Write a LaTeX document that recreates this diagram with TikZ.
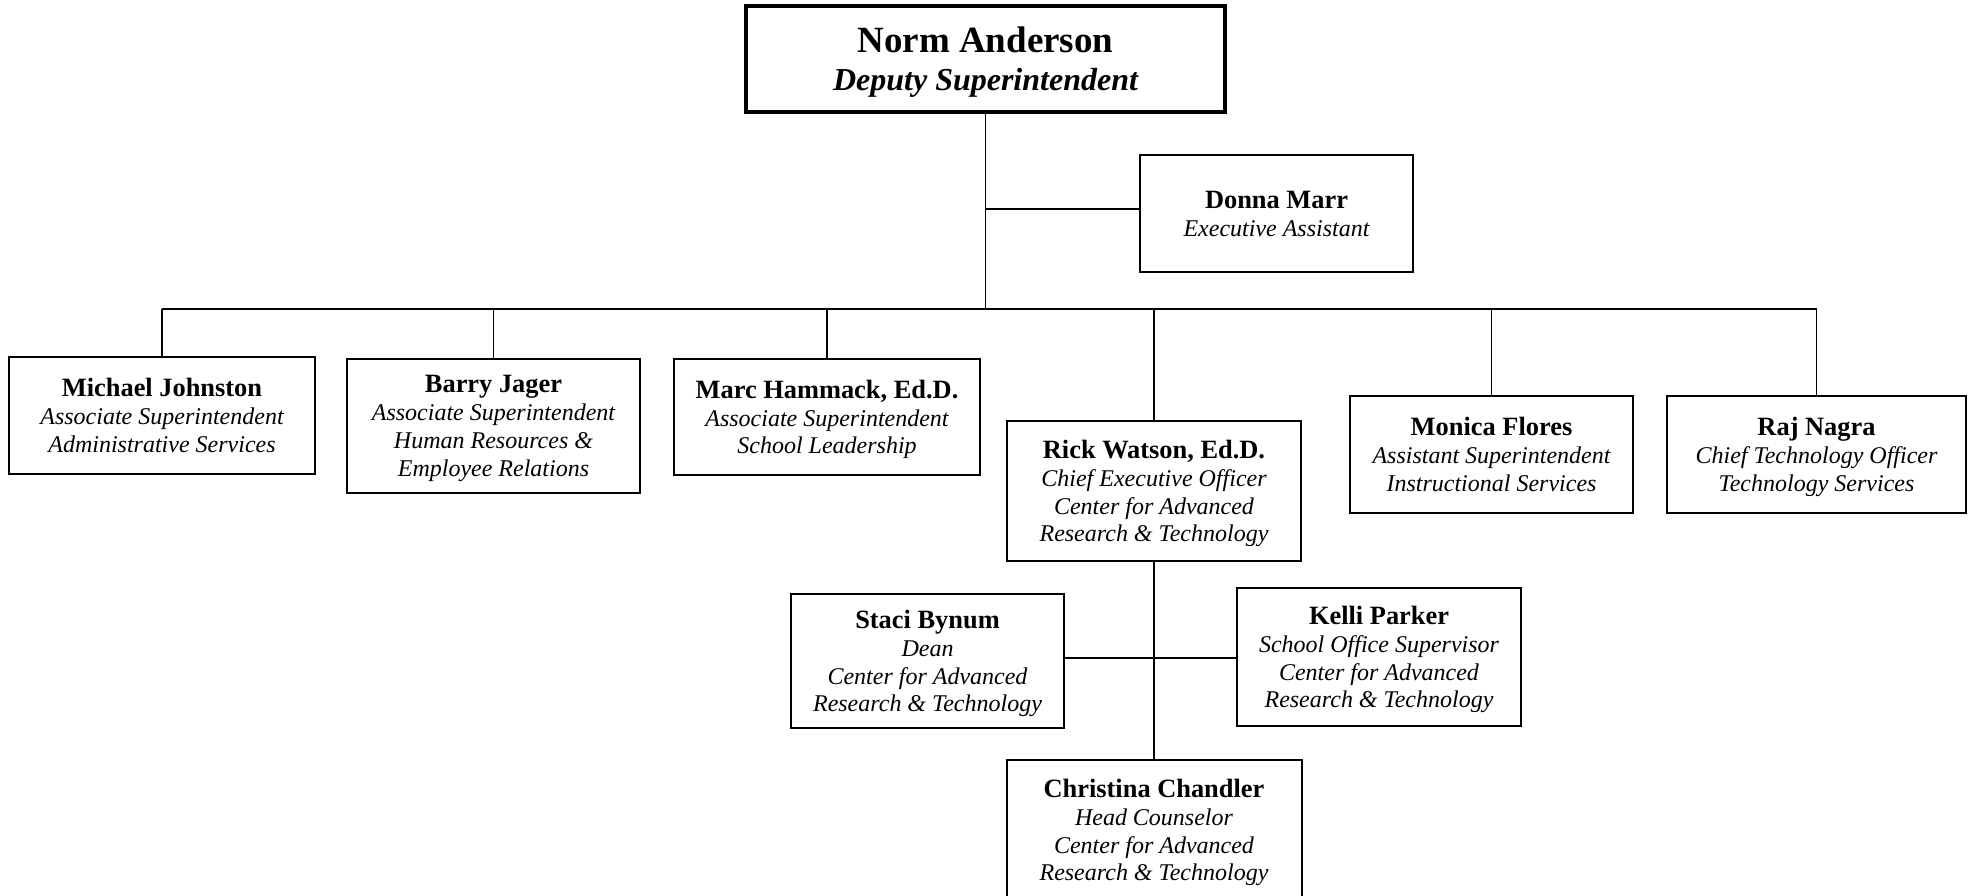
\documentclass[tikz,border=0pt]{standalone}
\usepackage{fontspec}
\setmainfont{Liberation Serif}
\usepackage{tikz}
\tikzset{
  person/.style={
    rectangle,
    draw=black, line width=1pt,
    inner sep=0pt,
    text depth=-1pt,
    align=center,
    font=\fontsize{12}{13.9}\selectfont\itshape},
  boss/.style={
    person,
    line width=1.75pt,
    font=\fontsize{16}{19}\selectfont\bfseries\itshape},
  line/.style={draw, line width=0.65pt},
}
\newcommand{\pname}[1]{{\upshape\bfseries\fontsize{13.2}{13.9}\selectfont #1}}

\begin{document}
\begin{tikzpicture}[x=0.5pt,y=-0.5pt]
\useasboundingbox (0,0) rectangle (1976,895);
\node[boss, minimum width=239.5pt, minimum height=53pt] (Norm) at (985.5,59)
  {{\upshape\fontsize{18.5}{19}\selectfont Norm Anderson}\\Deputy Superintendent};
\node[person, minimum width=136.5pt, minimum height=58.5pt] (Donna) at (1276.5,213.5)
  {\pname{Donna Marr}\\Executive Assistant};
% first row
\node[person, minimum width=153pt, minimum height=58.5pt] (Michael) at (162,415.5)
  {\pname{Michael Johnston}\\Associate Superintendent\\Administrative Services};
\node[person, minimum width=146.5pt, minimum height=67pt] (Barry) at (493.5,426)
  {\pname{Barry Jager}\\Associate Superintendent\\Human Resources \&\\Employee Relations};
\node[person, minimum width=153pt, minimum height=58pt] (Marc) at (827,417)
  {\pname{Marc Hammack, Ed.D.}\\Associate Superintendent\\School Leadership};
\node[person, minimum width=147pt, minimum height=70pt] (Rick) at (1154,491)
  {\pname{Rick Watson, Ed.D.}\\Chief Executive Officer\\Center for Advanced\\Research \& Technology};
\node[person, minimum width=141.5pt, minimum height=58.5pt] (Monica) at (1491.5,454.5)
  {\pname{Monica Flores}\\Assistant Superintendent\\Instructional Services};
\node[person, minimum width=149.5pt, minimum height=58.5pt] (Raj) at (1816.5,454.5)
  {\pname{Raj Nagra}\\Chief Technology Officer\\Technology Services};
% under Rick
\node[person, minimum width=136.5pt, minimum height=67pt] (Staci) at (927.5,661)
  {\pname{Staci Bynum}\\Dean\\Center for Advanced\\Research \& Technology};
\node[person, minimum width=142pt, minimum height=69pt] (Kelli) at (1379,657)
  {\pname{Kelli Parker}\\School Office Supervisor\\Center for Advanced\\Research \& Technology};
\node[person, minimum width=147.5pt, minimum height=70pt] (Christina) at (1154,830)
  {\pname{Christina Chandler}\\Head Counselor\\Center for Advanced\\Research \& Technology};

\coordinate (Bus) at (985,309);
\coordinate (Branch) at (985,209);
\coordinate (Cross) at (1154,658);
\draw[line] (Norm.south) -- (Norm.south |- Bus);
\draw[line] (Norm.south |- Branch) -- (Donna.west |- Branch);
\draw[line] (Michael.north |- Bus) -- (Raj.north |- Bus);
\foreach \who in {Michael,Barry,Marc,Rick,Monica,Raj}{
    \draw[line] (\who.north |- Bus) -- (\who.north);
    }
\draw[line] (Rick.south) -- (Christina.north);
\draw[line] (Staci.east |- Cross) -- (Kelli.west |- Cross);
\end{tikzpicture}
\end{document}
